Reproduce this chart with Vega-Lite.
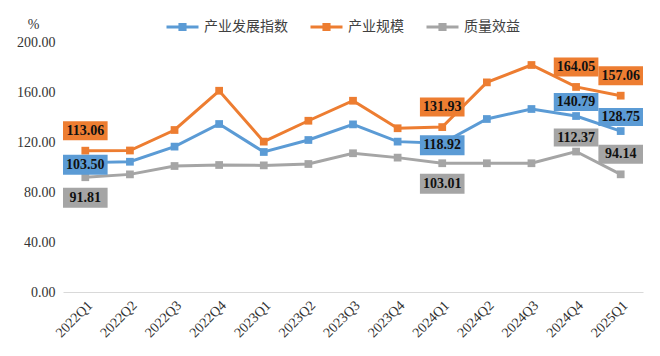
{
  "$schema": "https://vega.github.io/schema/vega-lite/v6.json",
  "autosize": {"type": "none"},
  "padding": {"left": 63, "top": 42, "right": 17, "bottom": 64},
  "width": 580,
  "height": 250,
  "background": "white",
  "config": {"view": {"stroke": null}},
  "data": {"values": [
    {"q": "2022Q1", "s": "产业发展指数", "v": 103.50}, {"q": "2022Q1", "s": "产业规模", "v": 113.06}, {"q": "2022Q1", "s": "质量效益", "v": 91.81},
    {"q": "2022Q2", "s": "产业发展指数", "v": 104.2}, {"q": "2022Q2", "s": "产业规模", "v": 113.2}, {"q": "2022Q2", "s": "质量效益", "v": 94.1},
    {"q": "2022Q3", "s": "产业发展指数", "v": 116.3}, {"q": "2022Q3", "s": "产业规模", "v": 129.6}, {"q": "2022Q3", "s": "质量效益", "v": 100.8},
    {"q": "2022Q4", "s": "产业发展指数", "v": 134.4}, {"q": "2022Q4", "s": "产业规模", "v": 161.0}, {"q": "2022Q4", "s": "质量效益", "v": 101.6},
    {"q": "2023Q1", "s": "产业发展指数", "v": 112.0}, {"q": "2023Q1", "s": "产业规模", "v": 120.3}, {"q": "2023Q1", "s": "质量效益", "v": 101.3},
    {"q": "2023Q2", "s": "产业发展指数", "v": 121.6}, {"q": "2023Q2", "s": "产业规模", "v": 137.0}, {"q": "2023Q2", "s": "质量效益", "v": 102.4},
    {"q": "2023Q3", "s": "产业发展指数", "v": 134.1}, {"q": "2023Q3", "s": "产业规模", "v": 153.0}, {"q": "2023Q3", "s": "质量效益", "v": 111.0},
    {"q": "2023Q4", "s": "产业发展指数", "v": 120.3}, {"q": "2023Q4", "s": "产业规模", "v": 131.0}, {"q": "2023Q4", "s": "质量效益", "v": 107.5},
    {"q": "2024Q1", "s": "产业发展指数", "v": 118.92}, {"q": "2024Q1", "s": "产业规模", "v": 131.93}, {"q": "2024Q1", "s": "质量效益", "v": 103.01},
    {"q": "2024Q2", "s": "产业发展指数", "v": 138.4}, {"q": "2024Q2", "s": "产业规模", "v": 167.7}, {"q": "2024Q2", "s": "质量效益", "v": 103.0},
    {"q": "2024Q3", "s": "产业发展指数", "v": 146.4}, {"q": "2024Q3", "s": "产业规模", "v": 181.6}, {"q": "2024Q3", "s": "质量效益", "v": 103.0},
    {"q": "2024Q4", "s": "产业发展指数", "v": 140.79}, {"q": "2024Q4", "s": "产业规模", "v": 164.05}, {"q": "2024Q4", "s": "质量效益", "v": 112.37},
    {"q": "2025Q1", "s": "产业发展指数", "v": 128.75}, {"q": "2025Q1", "s": "产业规模", "v": 157.06}, {"q": "2025Q1", "s": "质量效益", "v": 94.14}
  ]},
  "encoding": {
    "x": {
      "field": "q", "type": "ordinal",
      "scale": {"type": "band", "paddingInner": 0, "paddingOuter": 0},
      "axis": {
        "title": null, "labelAngle": -45, "labelFont": "Liberation Serif", "labelFontSize": 14,
        "labelColor": "#333333", "ticks": false, "domainColor": "#d9d9d9", "domainWidth": 1,
        "labelPadding": 6, "grid": false
      }
    },
    "y": {
      "field": "v", "type": "quantitative",
      "scale": {"domain": [0, 200], "nice": false, "zero": true},
      "axis": {
        "values": [0, 40, 80, 120, 160, 200], "format": ".2f", "grid": false, "domain": false, "ticks": false,
        "labelFont": "Liberation Serif", "labelFontSize": 14, "labelColor": "#333333", "labelPadding": 8,
        "title": "%", "titleAngle": 0, "titleX": -30, "titleY": -14, "titleFont": "Liberation Serif",
        "titleFontSize": 14, "titleFontWeight": "normal", "titleColor": "#333333", "titleAlign": "center", "titleBaseline": "alphabetic"
      }
    },
    "color": {
      "field": "s", "type": "nominal",
      "scale": {"domain": ["产业发展指数", "产业规模", "质量效益"], "range": ["#5B9BD5", "#ED7D31", "#A5A5A5"]},
      "legend": {
        "title": null, "orient": "none", "legendX": 102, "legendY": -33, "direction": "horizontal",
        "labelFont": "Noto Sans CJK SC", "labelFontSize": 14, "labelColor": "#404040", "labelOffset": 4,
        "symbolType": "M-1,0L1,0M-0.16,-0.16L0.16,-0.16L0.16,0.16L-0.16,0.16Z",
        "symbolSize": 1024, "symbolStrokeWidth": 3, "columnPadding": 16,
        "encode": {"symbols": {"update": {"fill": {"scale": "color", "field": "value"}, "stroke": {"scale": "color", "field": "value"}}}}
      }
    }
  },
  "layer": [
    {"mark": {"type": "line", "strokeWidth": 3}},
    {"mark": {"type": "point", "shape": "square", "filled": true, "size": 60, "opacity": 1}},
    {
      "transform": [{"filter": "(datum.s == '产业规模' && indexof(['2022Q1','2024Q1','2024Q4','2025Q1'], datum.q) >= 0) || (datum.s == '质量效益' && datum.q == '2025Q1')"}],
      "layer": [
        {"mark": {"type": "rect", "height": 19, "yOffset": -20}},
        {"mark": {"type": "text", "dy": -20, "font": "Liberation Serif", "fontSize": 14, "fontWeight": "bold", "baseline": "middle"},
         "encoding": {"text": {"field": "v", "type": "quantitative", "format": ".2f"}, "color": {"value": "#111111"}}}
      ]
    },
    {
      "transform": [{"filter": "datum.s == '产业发展指数' && (datum.q == '2022Q1' || datum.q == '2024Q1')"}],
      "layer": [
        {"mark": {"type": "rect", "height": 20, "yOffset": 2}},
        {"mark": {"type": "text", "dy": 2, "font": "Liberation Serif", "fontSize": 14, "fontWeight": "bold", "baseline": "middle"},
         "encoding": {"text": {"field": "v", "type": "quantitative", "format": ".2f"}, "color": {"value": "#111111"}}}
      ]
    },
    {
      "transform": [{"filter": "datum.s == '质量效益' && (datum.q == '2022Q1' || datum.q == '2024Q1')"}],
      "layer": [
        {"mark": {"type": "rect", "height": 20, "yOffset": 20.5}},
        {"mark": {"type": "text", "dy": 20.5, "font": "Liberation Serif", "fontSize": 14, "fontWeight": "bold", "baseline": "middle"},
         "encoding": {"text": {"field": "v", "type": "quantitative", "format": ".2f"}, "color": {"value": "#111111"}}}
      ]
    },
    {
      "transform": [{"filter": "(datum.s == '产业发展指数' && (datum.q == '2024Q4' || datum.q == '2025Q1')) || (datum.s == '质量效益' && datum.q == '2024Q4')"}],
      "layer": [
        {"mark": {"type": "rect", "height": 18, "yOffset": -14}},
        {"mark": {"type": "text", "dy": -14, "font": "Liberation Serif", "fontSize": 14, "fontWeight": "bold", "baseline": "middle"},
         "encoding": {"text": {"field": "v", "type": "quantitative", "format": ".2f"}, "color": {"value": "#111111"}}}
      ]
    }
  ]
}
